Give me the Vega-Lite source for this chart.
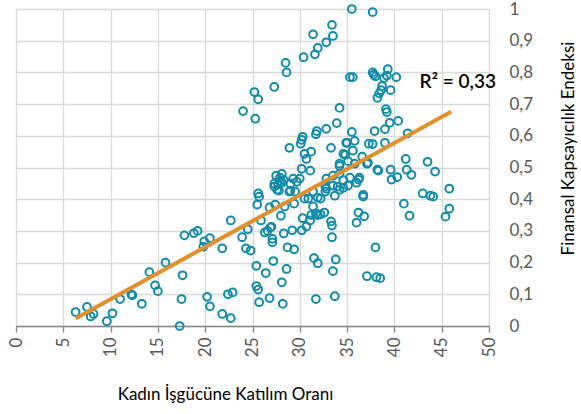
{
  "$schema": "https://vega.github.io/schema/vega-lite/v6.json",
  "width": 473,
  "height": 317,
  "autosize": "none",
  "padding": {"left": 16, "top": 9, "right": 92, "bottom": 88},
  "background": "white",
  "config": {"view": {"stroke": null}, "font": "Lato"},
  "datasets": {
    "pts": [
      {"x":6.3,"y":0.044},{"x":7.5,"y":0.06},{"x":7.9,"y":0.03},{"x":8.2,"y":0.038},{"x":9.6,"y":0.015},{"x":10.2,"y":0.04},{"x":11.0,"y":0.085},{"x":12.2,"y":0.1},{"x":12.3,"y":0.097},{"x":13.3,"y":0.07},{"x":14.1,"y":0.17},{"x":14.7,"y":0.128},{"x":15.0,"y":0.11},{"x":15.8,"y":0.2},{"x":17.3,"y":0.0},{"x":17.5,"y":0.085},{"x":17.6,"y":0.16},{"x":17.8,"y":0.286},{"x":18.8,"y":0.293},{"x":19.2,"y":0.3},{"x":19.8,"y":0.25},{"x":19.9,"y":0.267},{"x":20.5,"y":0.277},{"x":20.2,"y":0.092},{"x":20.5,"y":0.062},{"x":21.8,"y":0.245},{"x":21.8,"y":0.038},{"x":22.7,"y":0.025},{"x":22.4,"y":0.1},{"x":22.9,"y":0.106},{"x":22.7,"y":0.333},{"x":23.9,"y":0.28},{"x":24.3,"y":0.245},{"x":24.5,"y":0.305},{"x":24.8,"y":0.238},
      {"x":25.4,"y":0.19},{"x":25.4,"y":0.126},{"x":25.6,"y":0.115},{"x":25.7,"y":0.075},{"x":26.4,"y":0.167},{"x":26.8,"y":0.088},{"x":27.2,"y":0.205},{"x":28.1,"y":0.138},{"x":28.2,"y":0.07},{"x":28.6,"y":0.18},{"x":25.6,"y":0.418},{"x":25.7,"y":0.408},{"x":25.5,"y":0.383},{"x":25.9,"y":0.333},{"x":26.8,"y":0.374},{"x":26.9,"y":0.311},{"x":26.3,"y":0.295},{"x":26.6,"y":0.3},{"x":27.1,"y":0.264},{"x":27.1,"y":0.275},{"x":27.0,"y":0.313},{"x":27.4,"y":0.383},{"x":28.0,"y":0.348},{"x":28.3,"y":0.292},{"x":28.7,"y":0.248},{"x":29.4,"y":0.242},{"x":29.2,"y":0.302},{"x":29.4,"y":0.386},{"x":28.4,"y":0.377},{"x":28.9,"y":0.424},{"x":30.2,"y":0.302},{"x":30.7,"y":0.314},{"x":30.3,"y":0.34},{"x":31.1,"y":0.333},{"x":31.4,"y":0.377},{"x":31.7,"y":0.355},{"x":31.5,"y":0.214},{"x":31.9,"y":0.198},{"x":31.7,"y":0.085},{"x":32.2,"y":0.352},{"x":32.6,"y":0.358},{"x":33.3,"y":0.33},{"x":33.4,"y":0.317},{"x":33.4,"y":0.28},{"x":33.5,"y":0.173},{"x":33.8,"y":0.21},{"x":33.7,"y":0.094},{"x":36.0,"y":0.326},{"x":36.2,"y":0.358},{"x":36.8,"y":0.346},{"x":36.7,"y":0.408},{"x":38.0,"y":0.248},{"x":37.1,"y":0.157},{"x":38.1,"y":0.154},{"x":38.5,"y":0.151},
      {"x":27.3,"y":0.44},{"x":27.7,"y":0.446},{"x":28.1,"y":0.452},{"x":27.6,"y":0.43},{"x":27.8,"y":0.427},{"x":29.0,"y":0.427},{"x":29.7,"y":0.455},{"x":30.5,"y":0.402},{"x":30.9,"y":0.402},{"x":31.9,"y":0.405},{"x":32.2,"y":0.402},{"x":32.7,"y":0.424},{"x":32.8,"y":0.433},{"x":33.5,"y":0.443},{"x":33.7,"y":0.411},{"x":34.2,"y":0.43},{"x":34.6,"y":0.436},{"x":35.1,"y":0.443},{"x":36.0,"y":0.452},{"x":29.5,"y":0.424},{"x":31.4,"y":0.424},{"x":31.2,"y":0.35},{"x":31.9,"y":0.35},
      {"x":27.5,"y":0.474},{"x":27.9,"y":0.468},{"x":28.1,"y":0.48},{"x":27.9,"y":0.458},{"x":28.3,"y":0.46},{"x":29.3,"y":0.465},{"x":30.0,"y":0.465},{"x":32.8,"y":0.465},{"x":33.5,"y":0.474},{"x":34.2,"y":0.48},{"x":34.6,"y":0.46},{"x":35.3,"y":0.468},{"x":36.2,"y":0.462},{"x":30.2,"y":0.496},{"x":31.1,"y":0.49},{"x":27.3,"y":0.449},{"x":29.0,"y":0.449},{"x":32.7,"y":0.44},{"x":34.0,"y":0.44},{"x":30.5,"y":0.543},{"x":31.2,"y":0.55},{"x":30.7,"y":0.527},{"x":33.3,"y":0.562},{"x":35.0,"y":0.578},{"x":35.8,"y":0.584},{"x":35.6,"y":0.553},{"x":34.6,"y":0.543},{"x":34.8,"y":0.54},{"x":35.1,"y":0.52},{"x":34.2,"y":0.512},{"x":34.2,"y":0.505},{"x":35.8,"y":0.512},{"x":36.6,"y":0.534},{"x":37.3,"y":0.575},{"x":30.3,"y":0.597},{"x":30.2,"y":0.587},{"x":30.1,"y":0.575},{"x":28.9,"y":0.562},{"x":31.8,"y":0.615},{"x":31.7,"y":0.605},{"x":32.8,"y":0.622},{"x":33.9,"y":0.64},{"x":35.5,"y":0.612},{"x":34.2,"y":0.688},{"x":37.2,"y":0.515},{"x":38.2,"y":0.493},{"x":39.6,"y":0.493},{"x":40.3,"y":0.47},{"x":39.7,"y":0.462},{"x":41.2,"y":0.527},{"x":41.3,"y":0.493},{"x":41.8,"y":0.477},{"x":43.5,"y":0.518},{"x":44.3,"y":0.487},{"x":36.3,"y":0.468},{"x":41.0,"y":0.386},{"x":41.6,"y":0.348},{"x":43.0,"y":0.418},{"x":43.8,"y":0.411},{"x":44.1,"y":0.408},{"x":45.8,"y":0.433},{"x":45.8,"y":0.37},{"x":45.4,"y":0.345},{"x":37.9,"y":0.615},{"x":41.4,"y":0.608},{"x":37.7,"y":0.574},{"x":39.0,"y":0.578},{"x":39.0,"y":0.621},{"x":40.4,"y":0.647},{"x":39.5,"y":0.641},{"x":39.1,"y":0.684},{"x":39.2,"y":0.675},{"x":38.2,"y":0.72},{"x":38.4,"y":0.734},{"x":38.6,"y":0.744},{"x":38.7,"y":0.757},{"x":39.6,"y":0.744},{"x":39.3,"y":0.81},{"x":38.9,"y":0.782},{"x":39.2,"y":0.79},{"x":40.2,"y":0.785},{"x":37.7,"y":0.8},{"x":37.8,"y":0.793},{"x":38.0,"y":0.788},{"x":35.3,"y":0.785},{"x":35.6,"y":0.785},{"x":35.5,"y":1.0},{"x":37.7,"y":0.99},{"x":33.4,"y":0.95},{"x":31.4,"y":0.92},{"x":33.5,"y":0.915},{"x":32.8,"y":0.895},{"x":31.9,"y":0.877},{"x":31.6,"y":0.857},{"x":30.4,"y":0.848},{"x":28.5,"y":0.83},{"x":28.6,"y":0.8},{"x":27.3,"y":0.754},{"x":25.2,"y":0.738},{"x":25.6,"y":0.715},{"x":24.0,"y":0.678},{"x":25.3,"y":0.654},
      {"x":37.1,"y":0.512},{"x":38.3,"y":0.49},{"x":34.9,"y":0.578},{"x":36.7,"y":0.414}
    ],
    "trend": [{"x":6.3,"y":0.024},{"x":46.0,"y":0.676}],
    "lbl": [{"x":46.7,"y":0.771,"t":"R² = 0,33"}]
  },
  "encoding": {
    "x": {
      "field": "x", "type": "quantitative",
      "scale": {"domain": [0, 50], "nice": false, "zero": true},
      "axis": {
        "values": [0,5,10,15,20,25,30,35,40,45,50],
        "labelAngle": -90, "labelAlign": "right", "labelBaseline": "middle",
        "labelFontSize": 17, "labelColor": "#595959", "labelPadding": 5, "labelOverlap": false,
        "tickSize": 6, "tickColor": "#868686", "tickWidth": 1.3,
        "domainColor": "#868686", "domainWidth": 1.3,
        "grid": true, "gridColor": "#D9D9D9", "gridWidth": 1.3,
        "title": "Kadın İşgücüne Katılım Oranı",
        "titleFontSize": 17, "titleFontWeight": "normal", "titleColor": "#000000",
        "titleX": 209, "titleY": 73, "titleAlign": "center", "titleBaseline": "alphabetic"
      }
    },
    "y": {
      "field": "y", "type": "quantitative",
      "scale": {"domain": [0, 1], "nice": false},
      "axis": {
        "orient": "right",
        "values": [0,0.1,0.2,0.3,0.4,0.5,0.6,0.7,0.8,0.9,1],
        "labelExpr": "replace(format(datum.value, '.1~f'), '.', ',')",
        "labelFontSize": 17, "labelColor": "#595959", "labelPadding": 20, "labelOverlap": false,
        "labelAlign": "left", "labelBaseline": "middle",
        "ticks": false, "domain": false,
        "grid": true, "gridColor": "#D9D9D9", "gridWidth": 1.3,
        "title": "Finansal Kapsayıcılık Endeksi",
        "titleFontSize": 17, "titleFontWeight": "normal", "titleColor": "#000000",
        "titleAngle": -90, "titleX": 79, "titleY": 139, "titleAlign": "center", "titleBaseline": "middle"
      }
    }
  },
  "layer": [
    {
      "data": {"name": "pts"},
      "mark": {"type": "point", "shape": "circle", "filled": false, "color": "#0E8BAA", "strokeWidth": 2, "size": 60, "opacity": 1}
    },
    {
      "data": {"name": "trend"},
      "mark": {"type": "line", "color": "#E0902E", "strokeWidth": 4, "strokeCap": "butt"}
    },
    {
      "data": {"name": "lbl"},
      "mark": {"type": "text", "fontSize": 19, "fontWeight": 600, "color": "#000000", "align": "center", "baseline": "middle"},
      "encoding": {
        "text": {"field": "t"}
      }
    }
  ]
}
